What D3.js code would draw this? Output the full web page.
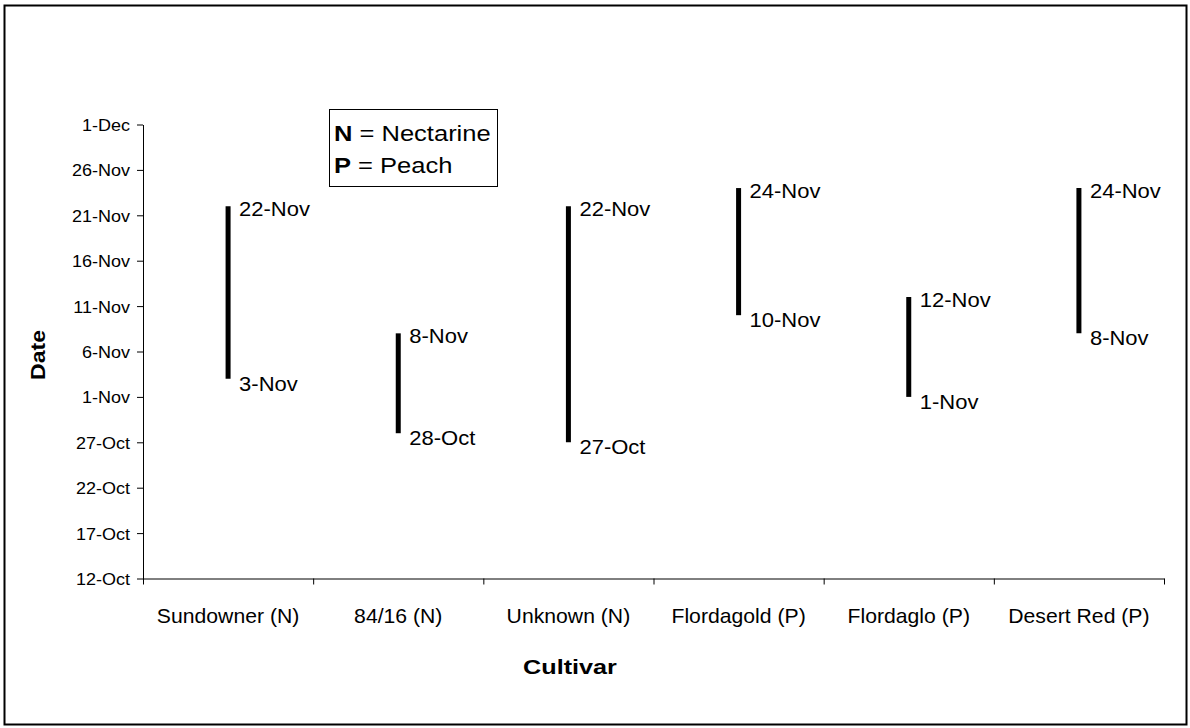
<!DOCTYPE html>
<html><head><meta charset="utf-8">
<script src="https://cdn.jsdelivr.net/npm/d3@7"></script>
<style>
body{margin:0;background:#fff;}
svg text{font-family:"Liberation Sans",Arial,sans-serif;fill:#000;}
</style></head>
<body><svg id="c" width="1190" height="728"></svg>
<script>
const categories = ["Sundowner (N)","84/16 (N)","Unknown (N)","Flordagold (P)","Flordaglo (P)","Desert Red (P)"];
const startDates = ["3-Nov","28-Oct","27-Oct","10-Nov","1-Nov","8-Nov"];
const endDates   = ["22-Nov","8-Nov","22-Nov","24-Nov","12-Nov","24-Nov"];
const tickLabels = ["12-Oct","17-Oct","22-Oct","27-Oct","1-Nov","6-Nov","11-Nov","16-Nov","21-Nov","26-Nov","1-Dec"];

const parse = d3.timeParse("%d-%b-%Y");
const P = s => parse(s + "-2000");
const fmt = d3.timeFormat("%-d-%b");

function stretch(sel, s){
  sel.each(function(){
    const t = d3.select(this);
    const x = +t.attr("x") || 0, y = +t.attr("y") || 0;
    t.attr("x",0).attr("y",0).attr("transform",`translate(${x},${y}) scale(${s},1)`);
  });
}

const svg = d3.select("#c");
svg.append("rect").attr("x",4.5).attr("y",5.5).attr("width",1182).attr("height",719)
  .attr("fill","none").attr("stroke","#000").attr("stroke-width",2);

const mLeft = 143, mRight = 1164, mTop = 124.5, mBottom = 578.5;
const y = d3.scaleTime().domain([P(tickLabels[0]), P(tickLabels[tickLabels.length-1])]).range([mBottom, mTop]);
const x = d3.scaleBand().domain(categories).range([mLeft, mRight]).padding(0);
const xb = d3.scaleLinear().domain([0, categories.length]).range([mLeft, mRight]);

// y axis
const ya = svg.append("g").attr("transform",`translate(${mLeft},0)`)
  .call(d3.axisLeft(y).tickValues(tickLabels.map(P)).tickFormat(fmt).tickSize(6).tickSizeOuter(0).tickPadding(7));
ya.selectAll("text").attr("font-size","17px").attr("font-family","Liberation Sans, Arial, sans-serif").attr("dy","0.35em");
ya.select(".domain").attr("stroke","#000");
stretch(ya.selectAll("text"), 1.06);

// x axis boundary ticks
const xa = svg.append("g").attr("transform",`translate(0,${mBottom})`)
  .call(d3.axisBottom(xb).tickValues(d3.range(categories.length+1)).tickFormat("").tickSize(6).tickSizeOuter(0));
xa.select(".domain").attr("stroke","#000");
// category labels
const xl = svg.append("g").attr("transform",`translate(0,${mBottom})`)
  .call(d3.axisBottom(x).tickSize(0).tickPadding(30));
xl.select(".domain").remove();
xl.selectAll("text").attr("font-size","20px").attr("font-family","Liberation Sans, Arial, sans-serif");
stretch(xl.selectAll("text"), 1.06);

// bars
const data = categories.map((c,i)=>({c, s:P(startDates[i]), e:P(endDates[i]), sl:startDates[i], el:endDates[i]}));
svg.selectAll("line.bar").data(data).enter().append("line").attr("class","bar")
  .attr("x1",d=>x(d.c)+x.bandwidth()/2).attr("x2",d=>x(d.c)+x.bandwidth()/2)
  .attr("y1",d=>y(d.s)).attr("y2",d=>y(d.e))
  .attr("stroke","#000").attr("stroke-width",5);

const hi = svg.selectAll("text.hi").data(data).enter().append("text").attr("class","hi")
  .attr("x",d=>x(d.c)+x.bandwidth()/2+11).attr("y",d=>y(d.e)+3).attr("dy","0.35em")
  .attr("font-size","20px").text(d=>d.el);
const lo = svg.selectAll("text.lo").data(data).enter().append("text").attr("class","lo")
  .attr("x",d=>x(d.c)+x.bandwidth()/2+11).attr("y",d=>y(d.s)+5).attr("dy","0.35em")
  .attr("font-size","20px").text(d=>d.sl);
stretch(hi, 1.1); stretch(lo, 1.1);

// legend
svg.append("rect").attr("x",329.5).attr("y",109.5).attr("width",168).attr("height",77)
  .attr("fill","#fff").attr("stroke","#000").attr("stroke-width",1);
const l1 = svg.append("text").attr("x",334).attr("y",141).attr("font-size","22px");
l1.append("tspan").attr("font-weight","bold").text("N");
l1.append("tspan").text(" = Nectarine");
const l2 = svg.append("text").attr("x",334).attr("y",173).attr("font-size","22px");
l2.append("tspan").attr("font-weight","bold").text("P");
l2.append("tspan").text(" = Peach");
stretch(l1, 1.16); stretch(l2, 1.16);

// axis titles
svg.append("text").attr("transform","translate(45,355) rotate(-90) scale(1.15,1)").attr("text-anchor","middle")
  .attr("font-size","20px").attr("font-weight","bold").text("Date");
const ct = svg.append("text").attr("x",570).attr("y",674).attr("text-anchor","middle")
  .attr("font-size","21px").attr("font-weight","bold").text("Cultivar");
stretch(ct, 1.2);
</script></body></html>
